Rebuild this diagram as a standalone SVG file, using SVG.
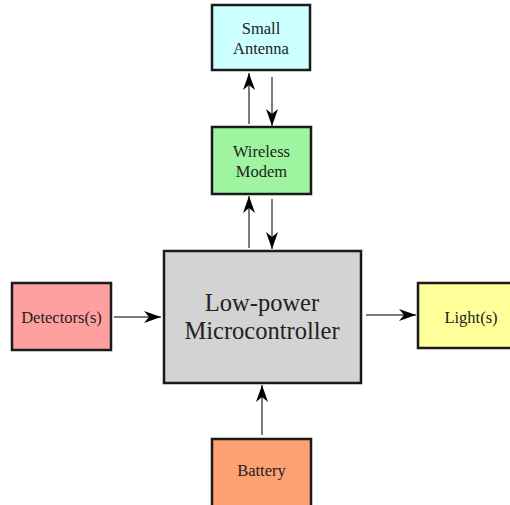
<svg xmlns="http://www.w3.org/2000/svg" width="510" height="505" viewBox="0 0 510 505">
<defs>
<marker id="ah" markerUnits="userSpaceOnUse" markerWidth="18" markerHeight="14" refX="17" refY="7" orient="auto">
<path d="M0,1 L17,7 L0,13 L5,7 Z" fill="#000"/>
</marker>
<style>
.box{stroke:#1a1a1a;stroke-width:2.5}
.t{font-family:'Liberation Serif','Times New Roman',serif;font-size:16.5px;fill:#222;text-anchor:middle}
.tb{font-family:'Liberation Serif','Times New Roman',serif;font-size:24.5px;fill:#222;text-anchor:middle}
.c{stroke:#7a7a7a;stroke-width:2;fill:none;marker-end:url(#ah)}
</style>
</defs>
<rect width="510" height="505" fill="#fff"/>
<g id="antenna">
<rect class="box" x="212" y="5" width="98" height="65" fill="#ccffff"/>
<text class="t" x="261" y="34">Small</text>
<text class="t" x="261" y="54">Antenna</text>
</g>
<g id="modem">
<rect class="box" x="212" y="127" width="99" height="67" fill="#9ff59f"/>
<text class="t" x="261.5" y="157">Wireless</text>
<text class="t" x="261.5" y="177">Modem</text>
</g>
<g id="mcu">
<rect class="box" x="164" y="251" width="197" height="132" fill="#d3d3d3"/>
<text class="tb" x="262" y="311">Low-power</text>
<text class="tb" x="262" y="339">Microcontroller</text>
</g>
<g id="detectors">
<rect class="box" x="12" y="283" width="99" height="67" fill="#ffa0a0"/>
<text class="t" x="61.5" y="323">Detectors(s)</text>
</g>
<g id="lights">
<rect class="box" x="418" y="283" width="107" height="65" fill="#ffff99"/>
<text class="t" x="471" y="323">Light(s)</text>
</g>
<g id="battery">
<rect class="box" x="212" y="439" width="99" height="70" fill="#ffa072"/>
<text class="t" x="261.5" y="476">Battery</text>
</g>
<g id="connectors">
<line class="c" x1="249" y1="124" x2="249" y2="73"/>
<line class="c" x1="272" y1="77" x2="272" y2="126"/>
<line class="c" x1="249" y1="248" x2="249" y2="196"/>
<line class="c" x1="272" y1="199" x2="272" y2="249"/>
<line class="c" x1="114" y1="317" x2="161" y2="317"/>
<line class="c" x1="366" y1="315" x2="416" y2="315"/>
<line class="c" x1="262" y1="435" x2="262" y2="385"/>
</g>
</svg>
